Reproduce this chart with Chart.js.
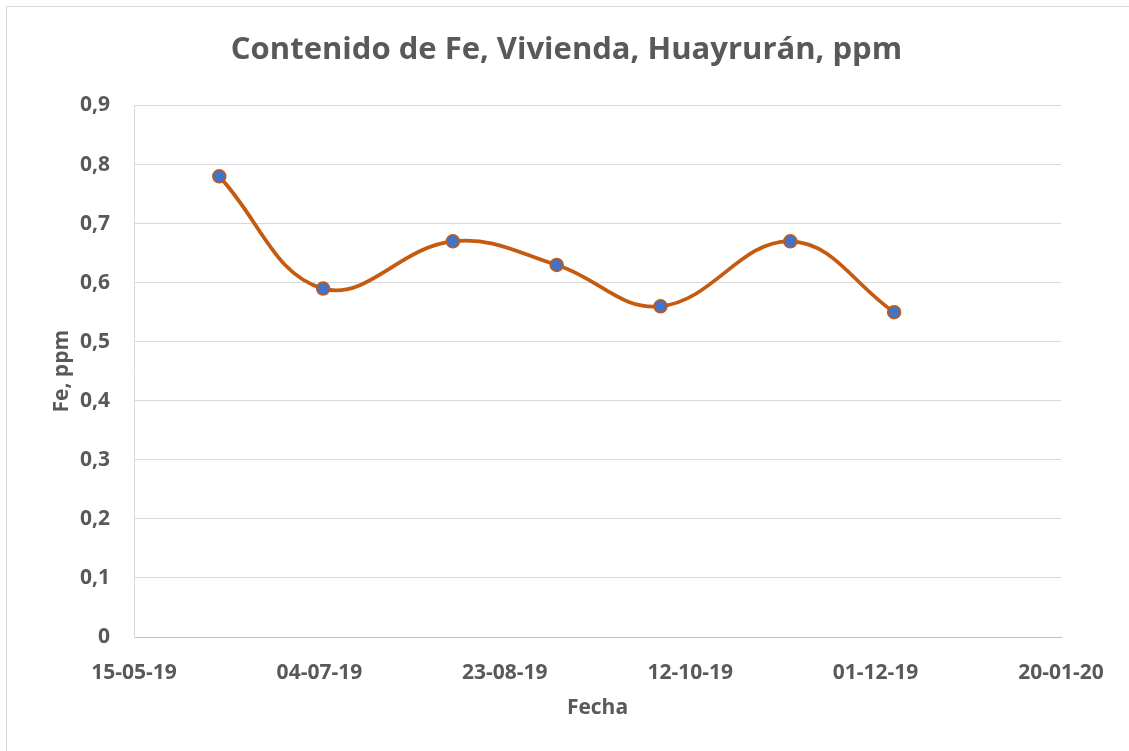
<!DOCTYPE html>
<html>
<head>
<meta charset="utf-8">
<script src="https://cdn.jsdelivr.net/npm/chart.js@4/dist/chart.umd.min.js"></script>
<style>
  html, body { margin: 0; padding: 0; background: #fff; }
  #wrap { width: 1129px; height: 751px; position: relative; }
</style>
</head>
<body>
<div id="wrap"><canvas id="chart" width="1129" height="751"></canvas></div>
<script>
// sampling dates and Fe values
const fechas = ['2019-06-07', '2019-07-05', '2019-08-09', '2019-09-06', '2019-10-04', '2019-11-08', '2019-12-06'];
const feValues = [0.78, 0.59, 0.67, 0.63, 0.56, 0.67, 0.55];
const tickFechas = ['2019-05-15', '2019-07-04', '2019-08-23', '2019-10-12', '2019-12-01', '2020-01-20'];
const yTicks = [0, 0.1, 0.2, 0.3, 0.4, 0.5, 0.6, 0.7, 0.8, 0.9];

const toDay = s => {
  const p = s.split('-').map(Number);
  return Date.UTC(p[0], p[1] - 1, p[2]) / 86400000;
};
const dayLabel = d => {
  const dt = new Date(d * 86400000);
  const dd = String(dt.getUTCDate()).padStart(2, '0');
  const mm = String(dt.getUTCMonth() + 1).padStart(2, '0');
  const yy = String(dt.getUTCFullYear()).slice(2);
  return dd + '-' + mm + '-' + yy;
};

const points = fechas.map((f, i) => ({ x: toDay(f), y: feValues[i] }));
const tickDays = tickFechas.map(toDay);

const textColor = '#595959';
const font = 'Open Sans';

// outer frame like the Excel chart area
const framePlugin = {
  id: 'frame',
  beforeDraw(chart) {
    const ctx = chart.ctx;
    ctx.save();
    ctx.fillStyle = '#fff';
    ctx.fillRect(0, 0, chart.width, chart.height);
    ctx.strokeStyle = '#d9d9d9';
    ctx.lineWidth = 1;
    ctx.strokeRect(6.5, 6.5, chart.width + 20, chart.height + 20);
    ctx.restore();
  }
};

new Chart(document.getElementById('chart'), {
  type: 'scatter',
  data: {
    datasets: [{
      label: 'Fe',
      data: points,
      showLine: true,
      tension: 0.4,
      borderColor: '#c55a11',
      borderWidth: 3.75,
      pointBackgroundColor: '#4472c4',
      pointBorderColor: '#c55a11',
      pointBorderWidth: 1.5,
      pointRadius: 6.5,
      clip: false
    }]
  },
  options: {
    responsive: false,
    animation: false,
    layout: { padding: { left: 4, right: 0, top: 0, bottom: 0 } },
    plugins: {
      legend: { display: false },
      tooltip: { enabled: false },
      title: {
        display: true,
        text: 'Contenido de Fe, Vivienda, Huayrurán, ppm',
        color: textColor,
        font: { family: font, size: 31, weight: 'bold', lineHeight: 1.2 },
        padding: { top: 32, bottom: 36.3 }
      }
    },
    scales: {
      x: {
        type: 'linear',
        min: tickDays[0],
        max: tickDays[tickDays.length - 1],
        afterBuildTicks: s => { s.ticks = tickDays.map(v => ({ value: v })); },
        afterFit: s => { s.height = 114; },
        grid: { display: false, drawTicks: false },
        border: { display: true, color: '#bfbfbf', width: 1 },
        ticks: {
          padding: 23,
          maxRotation: 0,
          autoSkip: false,
          color: textColor,
          font: { family: font, size: 21, weight: 'bold' },
          callback: v => dayLabel(v)
        },
        title: {
          display: true,
          text: 'Fecha',
          color: textColor,
          font: { family: font, size: 21, weight: 'bold', lineHeight: 1.2 },
          padding: { top: 0, bottom: 30 }
        }
      },
      y: {
        min: 0,
        max: 0.9,
        afterBuildTicks: s => { s.ticks = yTicks.map(v => ({ value: v })); },
        afterFit: s => { s.width = 130; },
        grid: { color: '#d9d9d9', lineWidth: 1, drawTicks: false },
        border: { display: true, color: '#d9d9d9', width: 1 },
        ticks: {
          padding: 24,
          color: textColor,
          font: { family: font, size: 21, weight: 'bold' },
          callback: v => v === 0 ? '0' : v.toFixed(1).replace('.', ',')
        },
        title: {
          display: true,
          text: 'Fe, ppm',
          color: textColor,
          font: { family: font, size: 21, weight: 'bold', lineHeight: 1.2 },
          padding: { top: 45, bottom: 0 }
        }
      },
      yRight: {
        position: 'right',
        display: true,
        afterFit: s => { s.width = 68; },
        grid: { display: false, drawTicks: false },
        border: { display: false },
        ticks: { display: false }
      }
    }
  },
  plugins: [framePlugin]
});
</script>
</body>
</html>
